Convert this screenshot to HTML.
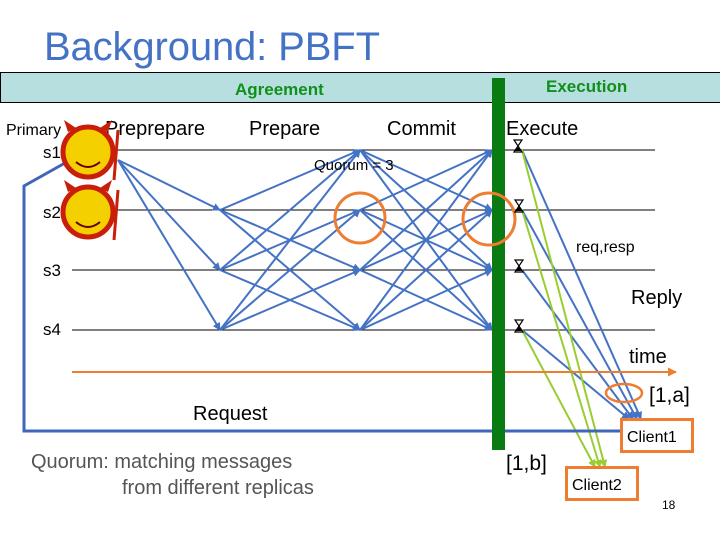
<!DOCTYPE html>
<html><head><meta charset="utf-8"><style>
html,body{margin:0;padding:0;background:#fff;}
svg{display:block;font-family:"Liberation Sans",sans-serif;}
</style></head><body>
<svg width="720" height="540" viewBox="0 0 720 540" xmlns="http://www.w3.org/2000/svg">
<defs>
<marker id="ab" markerWidth="8" markerHeight="8" refX="7" refY="4" orient="auto" markerUnits="userSpaceOnUse"><path d="M0,0 L8,4 L0,8 z" fill="#4472c4"/></marker>
<marker id="ag" markerWidth="8" markerHeight="8" refX="7" refY="4" orient="auto" markerUnits="userSpaceOnUse"><path d="M0,0 L8,4 L0,8 z" fill="#9acd32"/></marker>
<marker id="ao" markerWidth="9" markerHeight="9" refX="8" refY="4.5" orient="auto" markerUnits="userSpaceOnUse"><path d="M0,0 L9,4.5 L0,9 z" fill="#ed7d31"/></marker>
<g id="hg"><path d="M-4,-6 h8 l-8,12 h8 z" fill="#fff" stroke="#000" stroke-width="1.2"/><path d="M-3,5 h6 l-3,-4 z" fill="#000"/></g>
</defs>
<text x="44" y="60" font-size="40" fill="#4472c4" textLength="336">Background: PBFT</text>
<rect x="0.5" y="72.5" width="722" height="30" fill="#b8dfe0" stroke="#000" stroke-width="1"/>
<text x="235" y="95" font-size="17" font-weight="bold" fill="#10901a">Agreement</text>
<text x="546" y="92" font-size="17" font-weight="bold" fill="#10901a">Execution</text>

<text x="6" y="135" font-size="16">Primary</text>
<text x="105" y="135" font-size="20">Preprepare</text>
<text x="249" y="135" font-size="20">Prepare</text>
<text x="387" y="135" font-size="20">Commit</text>
<text x="506" y="135" font-size="20">Execute</text>
<text x="43" y="158" font-size="17">s1</text>
<text x="43" y="218" font-size="17">s2</text>
<text x="43" y="276" font-size="17">s3</text>
<text x="43" y="335" font-size="17">s4</text>

<g stroke="#000" stroke-width="1">
<line x1="72" y1="150" x2="655" y2="150"/>
<line x1="72" y1="210" x2="655" y2="210"/>
<line x1="72" y1="270" x2="655" y2="270"/>
<line x1="72" y1="330" x2="655" y2="330"/>
</g>

<g stroke="#4472c4" stroke-width="2" fill="none" marker-end="url(#ab)">
<line x1="118" y1="160" x2="220" y2="210"/>
<line x1="118" y1="160" x2="220" y2="270"/>
<line x1="118" y1="160" x2="220" y2="330"/>
<line x1="220" y1="210" x2="360" y2="150"/><line x1="220" y1="210" x2="360" y2="270"/><line x1="220" y1="210" x2="360" y2="330"/>
<line x1="220" y1="270" x2="360" y2="150"/><line x1="220" y1="270" x2="360" y2="210"/><line x1="220" y1="270" x2="360" y2="330"/>
<line x1="220" y1="330" x2="360" y2="150"/><line x1="220" y1="330" x2="360" y2="210"/><line x1="220" y1="330" x2="360" y2="270"/>
<line x1="360" y1="150" x2="492" y2="210"/><line x1="360" y1="150" x2="492" y2="270"/><line x1="360" y1="150" x2="492" y2="330"/>
<line x1="360" y1="210" x2="492" y2="150"/><line x1="360" y1="210" x2="492" y2="270"/><line x1="360" y1="210" x2="492" y2="330"/>
<line x1="360" y1="270" x2="492" y2="150"/><line x1="360" y1="270" x2="492" y2="210"/><line x1="360" y1="270" x2="492" y2="330"/>
<line x1="360" y1="330" x2="492" y2="150"/><line x1="360" y1="330" x2="492" y2="210"/><line x1="360" y1="330" x2="492" y2="270"/>
<line x1="522" y1="150" x2="641" y2="419"/>
<line x1="522" y1="210" x2="637" y2="419"/>
<line x1="522" y1="270" x2="633" y2="419"/>
<line x1="522" y1="330" x2="629" y2="419"/>
</g>
<g stroke="#9acd32" stroke-width="2" fill="none" marker-end="url(#ag)">
<line x1="522" y1="150" x2="605" y2="467"/>
<line x1="522" y1="210" x2="600" y2="467"/>
<line x1="522" y1="330" x2="595" y2="467"/>
</g>

<polyline points="65,163 24,186 24,431 620,431" fill="none" stroke="#3f66b8" stroke-width="3"/>
<line x1="72" y1="372" x2="676" y2="372" stroke="#ed7d31" stroke-width="2" marker-end="url(#ao)"/>

<rect x="492" y="78" width="13" height="372" fill="#0a7a12"/>
<circle cx="360" cy="218" r="25" fill="none" stroke="#ed7d31" stroke-width="3"/>
<circle cx="489" cy="219" r="26" fill="none" stroke="#ed7d31" stroke-width="3"/>
<ellipse cx="624" cy="393" rx="18" ry="9" fill="none" stroke="#ed7d31" stroke-width="2.5"/>

<use href="#hg" x="518" y="146"/><use href="#hg" x="519" y="206"/><use href="#hg" x="519" y="266"/><use href="#hg" x="519" y="326"/>

<g>
<circle cx="88" cy="152" r="25" fill="#f5d000" stroke="#c81e0a" stroke-width="5"/>
<path d="M68,132 l-4,-12 l12,8 z M108,132 l4,-12 l-12,8 z" fill="#c81e0a"/>
<path d="M76,162 q12,10 24,0" stroke="#600" stroke-width="2" fill="none"/>
<line x1="118" y1="130" x2="114" y2="180" stroke="#c81e0a" stroke-width="3"/>
<circle cx="88" cy="212" r="25" fill="#f5d000" stroke="#c81e0a" stroke-width="5"/>
<path d="M68,192 l-4,-12 l12,8 z M108,192 l4,-12 l-12,8 z" fill="#c81e0a"/>
<path d="M76,222 q12,10 24,0" stroke="#600" stroke-width="2" fill="none"/>
<line x1="118" y1="190" x2="114" y2="240" stroke="#c81e0a" stroke-width="3"/>
</g>

<text x="314" y="170" font-size="15">Quorum = 3</text>
<text x="576" y="252" font-size="16">req,resp</text>
<text x="631" y="304" font-size="20">Reply</text>
<text x="629" y="363" font-size="20">time</text>
<text x="649" y="402" font-size="21">[1,a]</text>
<text x="193" y="420" font-size="20">Request</text>
<text x="506" y="470" font-size="21">[1,b]</text>
<rect x="621.5" y="419.5" width="71" height="32" fill="#fff" stroke="#ed7d31" stroke-width="3"/>
<text x="627" y="442" font-size="16">Client1</text>
<rect x="566.5" y="467.5" width="71" height="32" fill="#fff" stroke="#ed7d31" stroke-width="3"/>
<text x="572" y="490" font-size="16">Client2</text>
<text x="662" y="509" font-size="12">18</text>
<text x="31" y="468" font-size="20" fill="#555">Quorum: matching messages</text>
<text x="122" y="494" font-size="20" fill="#555">from different replicas</text>
</svg>
</body></html>
